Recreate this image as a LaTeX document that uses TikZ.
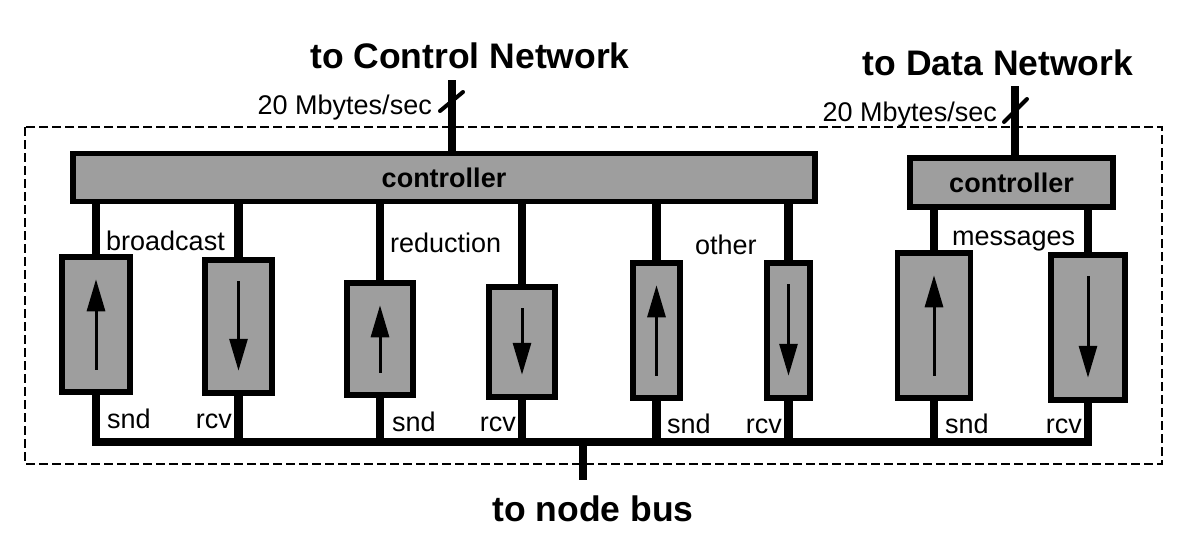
\documentclass[tikz,border=0pt]{standalone}
\usepackage{fontspec}
\setmainfont{Liberation Sans}
\usetikzlibrary{arrows.meta}
\begin{document}
\begin{tikzpicture}[x=1pt,y=-1pt,
  unitbox/.style={draw, line width=5.5pt, fill=black!38, inner sep=0pt},
  ctrlbox/.style={draw, line width=5.5pt, fill=black!38, inner sep=0pt,
     font=\fontsize{27}{30}\selectfont\bfseries},
  link/.style={line width=8.5pt, line join=miter},
  uparrow/.style={line width=3pt, -{Triangle[length=32pt,width=18pt]}},
  tick/.style={line width=4pt, line cap=round},
  title/.style={inner sep=0pt, font=\fontsize{35.5}{40}\selectfont\bfseries},
  rate/.style={inner sep=0pt, font=\fontsize{27}{30}\selectfont},
  lbl/.style={inner sep=0pt, font=\fontsize{27}{30}\selectfont},
  frame/.style={line width=2pt, dash pattern=on 9pt off 4pt}]
\useasboundingbox (0,0) rectangle (1200,555);

% dashed enclosure
\draw[frame] (25,127) rectangle (1162,464);

% controllers
\node[ctrlbox, minimum width=742pt, minimum height=48pt] (cc) at (444,177.5) {controller};
\node[ctrlbox, minimum width=203pt, minimum height=49pt] (dc) at (1011.5,182.5) {controller};

% channel boxes
\node[unitbox, minimum width=68pt, minimum height=135pt] (bs) at (96,324.5) {};
\node[unitbox, minimum width=67pt, minimum height=133pt] (br) at (238.5,326.5) {};
\node[unitbox, minimum width=66pt, minimum height=112pt] (rs) at (380,339) {};
\node[unitbox, minimum width=66pt, minimum height=110pt] (rr) at (522,342) {};
\node[unitbox, minimum width=47pt, minimum height=135pt] (os) at (656.5,330.5) {};
\node[unitbox, minimum width=43pt, minimum height=135pt] (orc) at (788.5,330.5) {};
\node[unitbox, minimum width=73pt, minimum height=145pt] (ms) at (934,325.5) {};
\node[unitbox, minimum width=74pt, minimum height=145pt] (mr) at (1088,327.5) {};

% arrows inside boxes
\foreach \n in {bs,rs,os,ms}
  \draw[uparrow] ([yshift=25pt]\n.south) -- ([yshift=-25pt]\n.north);
\foreach \n in {br,rr,orc,mr}
  \draw[uparrow] ([yshift=-24pt]\n.north) -- ([yshift=25pt]\n.south);

% links to controllers
\foreach \n in {bs,br,rs,rr,os,orc}
  \draw[link] (\n.north) -- (\n.north |- cc.south);
\foreach \n in {ms,mr}
  \draw[link] (\n.north) -- (\n.north |- dc.south);

% bottom bus
\coordinate (busR) at (1088,442);
\draw[link] (bs.south) |- (busR) -- (mr.south);
\foreach \n in {br,rs,rr,os,orc,ms}
  \draw[link] (\n.south) -- (\n.south |- busR);

% to node bus
\coordinate (nb) at (583,480);
\draw[link] (nb |- busR) -- (nb);
\node[title, anchor=base] (tnb) at (593,521) {to node bus};

% to control network
\coordinate (cn) at (452,80);
\draw[link] (cn) -- (cn |- cc.north);
\draw[tick] (440,111) -- (463,92);
\node[title, anchor=base] (tcn) at (470,68) {to Control Network};
\node[rate, anchor=base east] (r1) at (432,114) {20 Mbytes/sec};

% to data network
\coordinate (dn) at (1015,86);
\draw[link] (dn) -- (dn |- dc.north);
\draw[tick] (1004,122) -- (1027,99);
\node[title, anchor=base] (tdn) at (998,75) {to Data Network};
\node[rate, anchor=base east] (r2) at (997,121) {20 Mbytes/sec};

% group labels
\node[lbl, anchor=base west] (lb) at (106,250) {broadcast};
\node[lbl, anchor=base west] (lr) at (390,252) {reduction};
\node[lbl, anchor=base west] (lo) at (695,254) {other};
\node[lbl, anchor=base west] (lm) at (952,245) {messages};

% snd / rcv labels
\node[lbl, anchor=base west] (s1) at (107,428) {snd};
\node[lbl, anchor=base east] (c1) at (232,428) {rcv};
\node[lbl, anchor=base west] (s2) at (392,431) {snd};
\node[lbl, anchor=base east] (c2) at (516,431) {rcv};
\node[lbl, anchor=base west] (s3) at (667,433) {snd};
\node[lbl, anchor=base east] (c3) at (782,433) {rcv};
\node[lbl, anchor=base west] (s4) at (945,433) {snd};
\node[lbl, anchor=base east] (c4) at (1082,433) {rcv};
\end{tikzpicture}
\end{document}
